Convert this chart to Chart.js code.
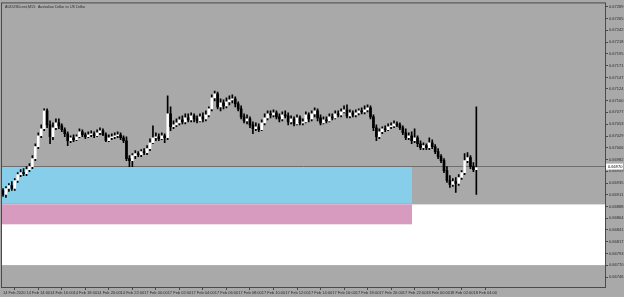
<!DOCTYPE html>
<html>
<head>
<meta charset="utf-8">
<script src="https://cdn.jsdelivr.net/npm/chart.js@4/dist/chart.umd.min.js"></script>
<style>
  html, body { margin: 0; padding: 0; background: #a9a9a9; }
  #chart { display: block; }
</style>
</head>
<body>
<canvas id="chart" width="624" height="297"></canvas>
<script>
// AUDUSDcent M15 candles (one per bar)
const openPrices = [
  0.66920,0.66912,0.66924,0.66930,0.66924,0.66940,0.66952,0.66956,0.66954,0.66962,
  0.66968,0.66984,0.67008,0.67030,0.67044,0.67080,0.67052,0.67028,0.67046,0.67056,
  0.67050,0.67042,0.67034,0.67020,0.67026,0.67022,0.67028,0.67038,0.67032,0.67028,
  0.67032,0.67034,0.67030,0.67036,0.67040,0.67032,0.67020,0.67026,0.67028,0.67030,
  0.67032,0.67026,0.67020,0.66984,0.66980,0.66990,0.66994,0.66992,0.66998,0.66996,
  0.67004,0.67016,0.67026,0.67028,0.67024,0.67030,0.67026,0.67074,0.67048,0.67052,
  0.67056,0.67062,0.67058,0.67066,0.67062,0.67070,0.67064,0.67060,0.67068,0.67064,
  0.67072,0.67084,0.67106,0.67114,0.67088,0.67096,0.67090,0.67098,0.67102,0.67104,
  0.67094,0.67084,0.67068,0.67060,0.67064,0.67052,0.67044,0.67048,0.67042,0.67056,
  0.67066,0.67074,0.67072,0.67076,0.67068,0.67064,0.67072,0.67070,0.67058,0.67064,
  0.67054,0.67066,0.67056,0.67058,0.67072,0.67064,0.67074,0.67080,0.67066,0.67056,
  0.67062,0.67060,0.67068,0.67066,0.67074,0.67072,0.67078,0.67082,0.67070,0.67076,
  0.67072,0.67076,0.67080,0.67078,0.67082,0.67086,0.67068,0.67046,0.67028,0.67038,
  0.67044,0.67042,0.67048,0.67050,0.67054,0.67052,0.67046,0.67036,0.67026,0.67030,
  0.67020,0.67026,0.67014,0.67006,0.67010,0.67006,0.67016,0.67008,0.66998,0.66988,
  0.66980,0.66960,0.66940,0.66932,0.66938,0.66934,0.66946,0.66956,0.66980,0.66986,
  0.66968,0.66962
];
const closePrices = [
  0.66912,0.66924,0.66930,0.66924,0.66940,0.66952,0.66956,0.66954,0.66962,0.66968,
  0.66984,0.67008,0.67030,0.67044,0.67080,0.67052,0.67028,0.67046,0.67056,0.67050,
  0.67042,0.67034,0.67020,0.67026,0.67022,0.67028,0.67038,0.67032,0.67028,0.67032,
  0.67034,0.67030,0.67036,0.67040,0.67032,0.67020,0.67026,0.67028,0.67030,0.67032,
  0.67026,0.67020,0.66984,0.66980,0.66990,0.66994,0.66992,0.66998,0.66996,0.67004,
  0.67016,0.67026,0.67028,0.67024,0.67030,0.67026,0.67074,0.67048,0.67052,0.67056,
  0.67062,0.67058,0.67066,0.67062,0.67070,0.67064,0.67060,0.67068,0.67064,0.67072,
  0.67084,0.67106,0.67114,0.67088,0.67096,0.67090,0.67098,0.67102,0.67104,0.67094,
  0.67084,0.67068,0.67060,0.67064,0.67052,0.67044,0.67048,0.67042,0.67056,0.67066,
  0.67074,0.67072,0.67076,0.67068,0.67064,0.67072,0.67070,0.67058,0.67064,0.67054,
  0.67066,0.67056,0.67058,0.67072,0.67064,0.67074,0.67080,0.67066,0.67056,0.67062,
  0.67060,0.67068,0.67066,0.67074,0.67072,0.67078,0.67082,0.67070,0.67076,0.67072,
  0.67076,0.67080,0.67078,0.67082,0.67086,0.67068,0.67046,0.67028,0.67038,0.67044,
  0.67042,0.67048,0.67050,0.67054,0.67052,0.67046,0.67036,0.67026,0.67030,0.67020,
  0.67026,0.67014,0.67006,0.67010,0.67006,0.67016,0.67008,0.66998,0.66988,0.66980,
  0.66960,0.66940,0.66932,0.66938,0.66934,0.66946,0.66956,0.66980,0.66986,0.66968,
  0.66962,0.66966
];
const highPrices = [
  0.66924,0.66928,0.66934,0.66938,0.66944,0.66956,0.66962,0.66964,0.66968,0.66974,
  0.66990,0.67014,0.67036,0.67052,0.67084,0.67084,0.67060,0.67056,0.67064,0.67064,
  0.67054,0.67046,0.67038,0.67030,0.67032,0.67032,0.67044,0.67042,0.67036,0.67038,
  0.67040,0.67038,0.67042,0.67046,0.67044,0.67036,0.67032,0.67034,0.67036,0.67038,
  0.67036,0.67030,0.67028,0.66990,0.66994,0.67000,0.66998,0.67002,0.67004,0.67010,
  0.67024,0.67050,0.67036,0.67034,0.67036,0.67034,0.67110,0.67088,0.67060,0.67064,
  0.67068,0.67070,0.67074,0.67074,0.67076,0.67074,0.67070,0.67074,0.67076,0.67080,
  0.67088,0.67112,0.67120,0.67118,0.67104,0.67102,0.67106,0.67110,0.67112,0.67108,
  0.67098,0.67090,0.67074,0.67072,0.67068,0.67058,0.67056,0.67054,0.67062,0.67074,
  0.67080,0.67080,0.67082,0.67080,0.67074,0.67078,0.67080,0.67076,0.67070,0.67068,
  0.67072,0.67070,0.67064,0.67078,0.67076,0.67080,0.67086,0.67084,0.67072,0.67068,
  0.67068,0.67074,0.67074,0.67080,0.67080,0.67084,0.67090,0.67092,0.67082,0.67080,
  0.67082,0.67084,0.67086,0.67090,0.67092,0.67090,0.67072,0.67052,0.67044,0.67048,
  0.67050,0.67054,0.67056,0.67060,0.67058,0.67056,0.67050,0.67044,0.67036,0.67038,
  0.67044,0.67030,0.67020,0.67016,0.67014,0.67026,0.67022,0.67012,0.67004,0.66992,
  0.66984,0.66968,0.66950,0.66944,0.66946,0.66952,0.66960,0.66994,0.66996,0.66990,
  0.66976,0.67088
];
const lowPrices = [
  0.66908,0.66906,0.66918,0.66920,0.66920,0.66936,0.66948,0.66950,0.66950,0.66958,
  0.66964,0.66980,0.67004,0.67026,0.67040,0.67046,0.67014,0.67022,0.67042,0.67044,
  0.67038,0.67028,0.67010,0.67016,0.67018,0.67020,0.67026,0.67028,0.67024,0.67026,
  0.67028,0.67026,0.67028,0.67032,0.67030,0.67018,0.67018,0.67022,0.67024,0.67026,
  0.67022,0.67016,0.66980,0.66968,0.66968,0.66984,0.66988,0.66988,0.66992,0.66992,
  0.67000,0.67014,0.67020,0.67020,0.67022,0.67016,0.67022,0.67040,0.67044,0.67048,
  0.67052,0.67054,0.67054,0.67058,0.67058,0.67058,0.67056,0.67058,0.67058,0.67060,
  0.67068,0.67080,0.67100,0.67084,0.67080,0.67084,0.67086,0.67092,0.67096,0.67088,
  0.67080,0.67064,0.67056,0.67054,0.67046,0.67034,0.67040,0.67038,0.67040,0.67052,
  0.67062,0.67066,0.67068,0.67064,0.67058,0.67060,0.67066,0.67052,0.67054,0.67050,
  0.67052,0.67052,0.67052,0.67056,0.67058,0.67060,0.67068,0.67060,0.67052,0.67054,
  0.67056,0.67058,0.67062,0.67064,0.67068,0.67068,0.67076,0.67066,0.67066,0.67068,
  0.67068,0.67072,0.67074,0.67074,0.67078,0.67064,0.67040,0.67020,0.67024,0.67034,
  0.67038,0.67040,0.67044,0.67046,0.67048,0.67042,0.67032,0.67022,0.67022,0.67014,
  0.67016,0.67008,0.67002,0.67002,0.67002,0.67002,0.67004,0.66994,0.66984,0.66976,
  0.66956,0.66936,0.66926,0.66928,0.66916,0.66930,0.66942,0.66952,0.66976,0.66964,
  0.66958,0.66912
];

// time labels, one every 8 bars (2 hours of M15)
const barsPerLabel = 8;
const xLabels = [
  '14 Feb 2020', '14 Feb 14:00', '14 Feb 16:00', '14 Feb 18:00', '14 Feb 20:00', '14 Feb 22:00',
  '17 Feb 00:00', '17 Feb 02:00', '17 Feb 04:00', '17 Feb 06:00', '17 Feb 08:00', '17 Feb 10:00',
  '17 Feb 12:00', '17 Feb 14:00', '17 Feb 16:00', '17 Feb 18:00', '17 Feb 20:00', '17 Feb 22:00',
  '18 Feb 00:00', '18 Feb 02:00', '18 Feb 04:00'
];

// price scale
const yTicks = [
  0.67289, 0.67265, 0.67242, 0.67218, 0.67195, 0.67171, 0.67147, 0.67124,
  0.67100, 0.67077, 0.67053, 0.67029, 0.67006, 0.66982, 0.66959, 0.66935,
  0.66911, 0.66888, 0.66864, 0.66841, 0.66817, 0.66793, 0.66770, 0.66746
];
const priceMin = 0.66726;
const priceMax = 0.67296;
const bidPrice = 0.66970;

// rectangle objects on the chart: [from bar, to bar (null = right edge), top price, bottom price]
const zoneWhite = [null, null, 0.66892, 0.66770];
const zoneBlue = [null, 139.1, 0.66968, 0.66894];
const zonePink = [null, 139.1, 0.66892, 0.66852];

const chartTitle = 'AUDUSDcent,M15:  Australian Dollar vs US Dollar';

const BG = '#a9a9a9';
const FRAME = '#4a4a4a';
const TXT = '#2a2a2a';
const tinyFont = { family: 'Liberation Sans', size: 4 };

const wickData = openPrices.map((o, i) => ({ x: i, y: [lowPrices[i], highPrices[i]] }));
const bodyData = openPrices.map((o, i) => ({ x: i, y: [o, closePrices[i]] }));
const bodyColors = openPrices.map((o, i) => closePrices[i] >= o ? '#ffffff' : '#000000');

function drawZone(ctx, chart, zone, color) {
  const xs = chart.scales.x, ys = chart.scales.y, area = chart.chartArea;
  const left = zone[0] === null ? area.left : xs.getPixelForValue(zone[0]);
  const right = zone[1] === null ? area.right : xs.getPixelForValue(zone[1]);
  const top = ys.getPixelForValue(zone[2]);
  const bottom = ys.getPixelForValue(zone[3]);
  ctx.fillStyle = color;
  ctx.fillRect(left, top, right - left, bottom - top);
}

const mtDecor = {
  id: 'mtDecor',
  beforeDraw(chart) {
    const ctx = chart.ctx;
    ctx.save();
    ctx.fillStyle = BG;
    ctx.fillRect(0, 0, chart.width, chart.height);
    ctx.restore();
  },
  beforeDatasetsDraw(chart) {
    const ctx = chart.ctx, area = chart.chartArea;
    ctx.save();
    ctx.beginPath();
    ctx.rect(area.left, area.top, area.right - area.left, area.bottom - area.top);
    ctx.clip();
    drawZone(ctx, chart, zoneWhite, '#ffffff');
    drawZone(ctx, chart, zoneBlue, '#87ceeb');
    drawZone(ctx, chart, zonePink, '#d69bbf');
    // bid line
    const by = Math.round(chart.scales.y.getPixelForValue(bidPrice)) + 0.5;
    ctx.strokeStyle = '#6e6e6e';
    ctx.lineWidth = 1;
    ctx.beginPath();
    ctx.moveTo(area.left, by);
    ctx.lineTo(area.right, by);
    ctx.stroke();
    ctx.restore();
  },
  afterDraw(chart) {
    const ctx = chart.ctx, area = chart.chartArea;
    ctx.save();
    // frame
    ctx.strokeStyle = FRAME;
    ctx.lineWidth = 1;
    ctx.strokeRect(area.left - 0.5, area.top - 0.5, area.right - area.left + 1, area.bottom - area.top + 1);
    // title
    ctx.fillStyle = TXT;
    ctx.font = '3.6px "Liberation Sans"';
    ctx.textBaseline = 'middle';
    ctx.textAlign = 'left';
    ctx.fillText(chartTitle, area.left + 3, area.top + 4);
    // bid price tag on the axis
    const by = chart.scales.y.getPixelForValue(bidPrice);
    ctx.fillStyle = '#ffffff';
    ctx.fillRect(area.right + 1, by - 2, 17, 6);
    ctx.fillStyle = '#000000';
    ctx.font = '4px "Liberation Sans"';
    ctx.fillText(bidPrice.toFixed(5), area.right + 3, by + 1);
    ctx.restore();
  }
};

new Chart(document.getElementById('chart'), {
  type: 'bar',
  data: {
    datasets: [
      {
        data: bodyData,
        backgroundColor: bodyColors,
        barThickness: 2,
        minBarLength: 1,
        grouped: false,
        order: 0
      },
      {
        data: wickData,
        backgroundColor: '#000000',
        barThickness: 1,
        grouped: false,
        order: 1
      }
    ]
  },
  options: {
    responsive: false,
    animation: false,
    devicePixelRatio: 1,
    layout: { padding: { left: 2, top: 2, right: 0, bottom: 0 } },
    plugins: {
      legend: { display: false },
      tooltip: { enabled: false }
    },
    scales: {
      x: {
        type: 'linear',
        min: -0.34,
        max: 204.76,
        offset: false,
        grid: { drawOnChartArea: false, drawTicks: true, tickLength: 3, color: FRAME },
        border: { display: true, color: FRAME },
        ticks: {
          font: tinyFont,
          color: TXT,
          padding: 0,
          autoSkip: false,
          maxRotation: 0,
          align: 'start',
          callback: (v) => xLabels[Math.round(v / barsPerLabel)]
        },
        afterBuildTicks: (axis) => {
          axis.ticks = xLabels.map((_, k) => ({ value: k * barsPerLabel }));
        },
        afterFit: (axis) => { axis.height = 10; }
      },
      y: {
        type: 'linear',
        position: 'right',
        min: priceMin,
        max: priceMax,
        grid: { drawOnChartArea: false, drawTicks: true, tickLength: 3, color: FRAME },
        border: { display: true, color: FRAME },
        ticks: {
          font: tinyFont,
          color: TXT,
          padding: 1,
          autoSkip: false,
          callback: (v) => v.toFixed(5)
        },
        afterBuildTicks: (axis) => {
          axis.ticks = yTicks.map((v) => ({ value: v }));
        },
        afterFit: (axis) => { axis.width = 19; }
      }
    }
  },
  plugins: [mtDecor]
});
</script>
</body>
</html>
